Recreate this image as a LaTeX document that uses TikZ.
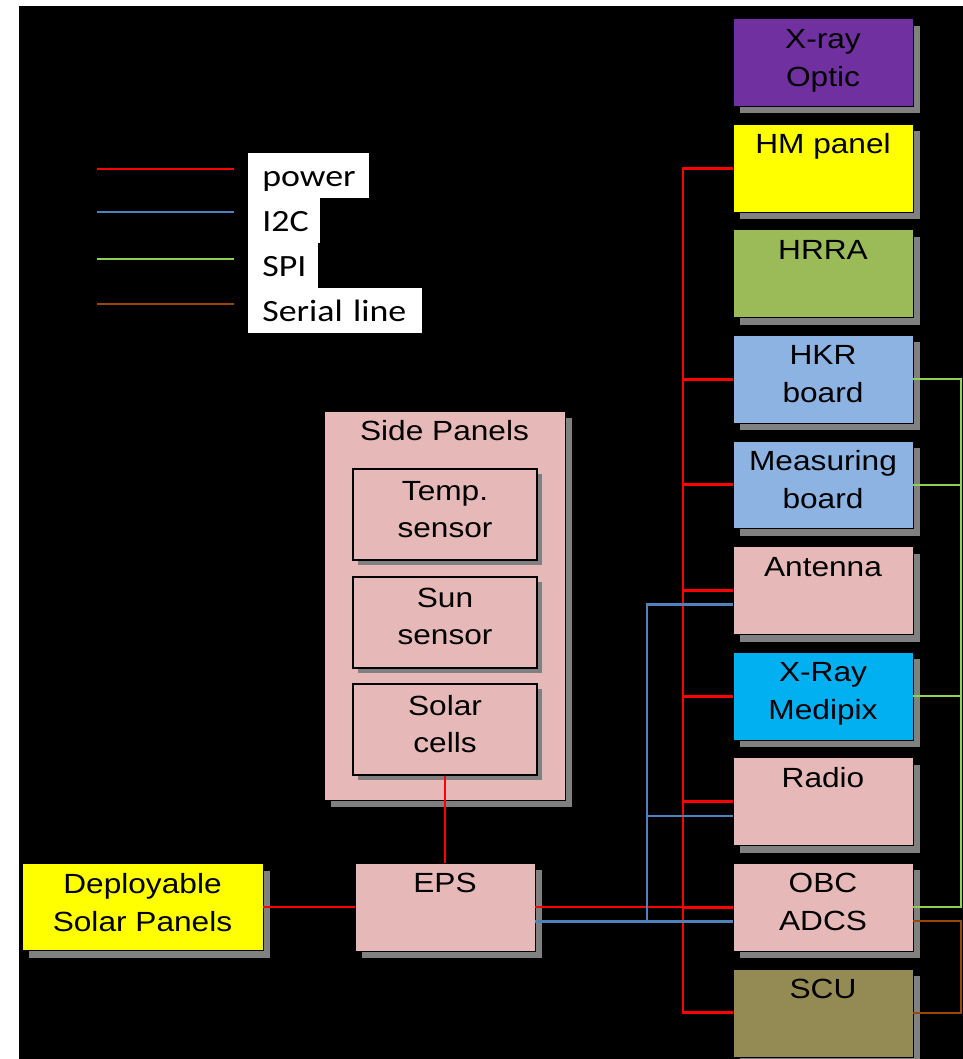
\documentclass[tikz,border=0pt]{standalone}
\usepackage{fontspec}
\setmainfont{Liberation Sans}[FakeStretch=1.14]
\newfontfamily\legfont{Carlito}[FakeStretch=1.16]
\usetikzlibrary{positioning,shadows}

\definecolor{pwrred}{HTML}{FF0000}
\definecolor{ictblue}{HTML}{4F81BD}
\definecolor{spigreen}{HTML}{92D050}
\definecolor{serbrown}{HTML}{984807}
\definecolor{shade}{HTML}{808080}
\definecolor{optpurple}{HTML}{7030A0}
\definecolor{hmyellow}{HTML}{FFFF00}
\definecolor{hrragreen}{HTML}{9BBB59}
\definecolor{brdblue}{HTML}{8DB3E2}
\definecolor{pinkfill}{HTML}{E6B9B8}
\definecolor{pixcyan}{HTML}{00B0F0}
\definecolor{scuolive}{HTML}{948A54}

\begin{document}
\begin{tikzpicture}[x=0.02cm, y=-0.02cm,
        unit/.style={rectangle, draw=black, line width=0.5pt, minimum width=3.6cm, minimum height=1.76cm, text height=1.35cm, text depth=0.41cm, inner sep=0pt, align=center, font=\fontsize{15.8}{21.6}\selectfont, drop shadow={shadow xshift=0.14cm, shadow yshift=-0.14cm, fill=shade, opacity=1}},
        part/.style={rectangle, draw=black, line width=1.2pt, fill=pinkfill, minimum width=3.68cm, minimum height=1.82cm, text height=1.36cm, text depth=0.46cm, inner sep=0pt, align=center, font=\fontsize{15.8}{21}\selectfont, drop shadow={shadow xshift=0.1cm, shadow yshift=-0.1cm, fill=shade, opacity=1}},
        legbox/.style={rectangle, fill=white, anchor=north west, text height=0.66cm, text depth=0.24cm, inner xsep=0.28cm, inner ysep=0pt, align=left, font=\legfont\fontsize{17.6}{20}\selectfont},
        pwr/.style={draw=pwrred, line width=1.7pt},
        pwrthin/.style={draw=pwrred, line width=1.2pt},
        ict/.style={draw=ictblue, line width=1.3pt},
        spi/.style={draw=spigreen, line width=1.1pt},
        ser/.style={draw=serbrown, line width=1.1pt},
      ]
      \useasboundingbox (0,0) rectangle (963,1059);
      \fill[white] (0,0) rectangle (963,1059);
      \fill[black] (19,6) rectangle (963,1059);

      % legend
      \node [legbox, text width=1.86cm] (lpow) at (248,153) {power};
      \node [legbox, text width=0.88cm] (lict) at (248,198) {I2C};
      \node [legbox, text width=0.84cm] (lspi) at (248,243) {SPI};
      \node [legbox, text width=2.92cm] (lser) at (248,288) {Serial line};
      \draw [pwrthin] ([xshift=-0.28cm, yshift=0.13cm]lpow.west) -- ++(-2.74cm,0);
      \draw [ict] ([xshift=-0.28cm, yshift=0.18cm]lict.west) -- ++(-2.74cm,0);
      \draw [spi] ([xshift=-0.28cm, yshift=0.13cm]lspi.west) -- ++(-2.74cm,0);
      \draw [ser] ([xshift=-0.28cm, yshift=0.13cm]lser.west) -- ++(-2.74cm,0);

      % right column
      \node [unit, fill=optpurple] (optic) at (823,62.5) {X-ray\\Optic};
      \node [unit, fill=hmyellow, below=0.335cm of optic] (hm) {HM panel\\~};
      \node [unit, fill=hrragreen, below=0.335cm of hm] (hrra) {HRRA\\~};
      \node [unit, fill=brdblue, below=0.335cm of hrra] (hkr) {HKR\\board};
      \node [unit, fill=brdblue, below=0.335cm of hkr] (meas) {Measuring\\board};
      \node [unit, fill=pinkfill, below=0.335cm of meas] (ant) {Antenna\\~};
      \node [unit, fill=pixcyan, below=0.335cm of ant] (pix) {X-Ray\\Medipix};
      \node [unit, fill=pinkfill, below=0.335cm of pix] (radio) {Radio\\~};
      \node [unit, fill=pinkfill, below=0.335cm of radio] (obc) {OBC\\ADCS};
      \node [unit, fill=scuolive, below=0.335cm of obc] (scu) {SCU\\~};

      % side panels
      \node [unit, fill=pinkfill, minimum width=4.82cm, minimum height=7.78cm, text height=0pt, text depth=0pt] (side) at (444.5,605.5) {};
      \node [anchor=north, inner sep=0pt, font=\fontsize{15.8}{21}\selectfont] (sidelbl) at ([yshift=-0.18cm]side.north) {Side Panels};
      \node [part] (temp) at (445,514.5) {Temp.\\sensor};
      \node [part, below=0.29cm of temp] (sun) {Sun\\sensor};
      \node [part, below=0.29cm of sun] (solar) {Solar\\cells};

      % bottom row
      \node [unit, fill=hmyellow, minimum width=4.82cm, minimum height=1.74cm, text depth=0.39cm] (depl) at (142.5,0 |- obc) {Deployable\\Solar Panels};
      \node [unit, fill=pinkfill] (eps) at (445,0 |- obc) {EPS\\~};

      % bus lines
      \coordinate (pbus) at (683,0);
      \coordinate (ibus) at (647,0);
      \coordinate (sbus) at (961,0);
      \coordinate (epsI) at ([yshift=-0.28cm]eps.east);
      \coordinate (obcI) at ([yshift=-0.28cm]obc.west);
      \coordinate (antI) at ([yshift=-0.28cm]ant.west);
      \coordinate (radioI) at ([yshift=-0.28cm]radio.west);
      \coordinate (obcS) at ([yshift=-0.28cm]obc.east);

      % power
      \draw [pwrthin] (solar.south) -- (eps.north);
      \draw [pwrthin] (depl.east) -- (eps.west);
      \draw [pwrthin] (eps.east) -- (obc.west);
      \draw [pwr] (hm.west) -| (pbus |- scu.west) -- (scu.west);
      \foreach \n in {hkr,meas,ant,pix,radio,obc}
        \draw [pwr] (\n.west) -- (pbus |- \n.west);

      % i2c
      \draw [ict] (epsI) -- (obcI);
      \draw [ict] (antI) -| (ibus |- obcI);
      \draw [ict] (radioI) -- (ibus |- radioI);

      % spi
      \draw [spi] (hkr.east) -| (sbus |- obc.east) -- (obc.east);
      \foreach \n in {meas,pix}
        \draw [spi] (\n.east) -- (sbus |- \n.east);

      % serial
      \draw [ser] (obcS) -| (sbus |- scu.east) -- (scu.east);
    \end{tikzpicture}
\end{document}
